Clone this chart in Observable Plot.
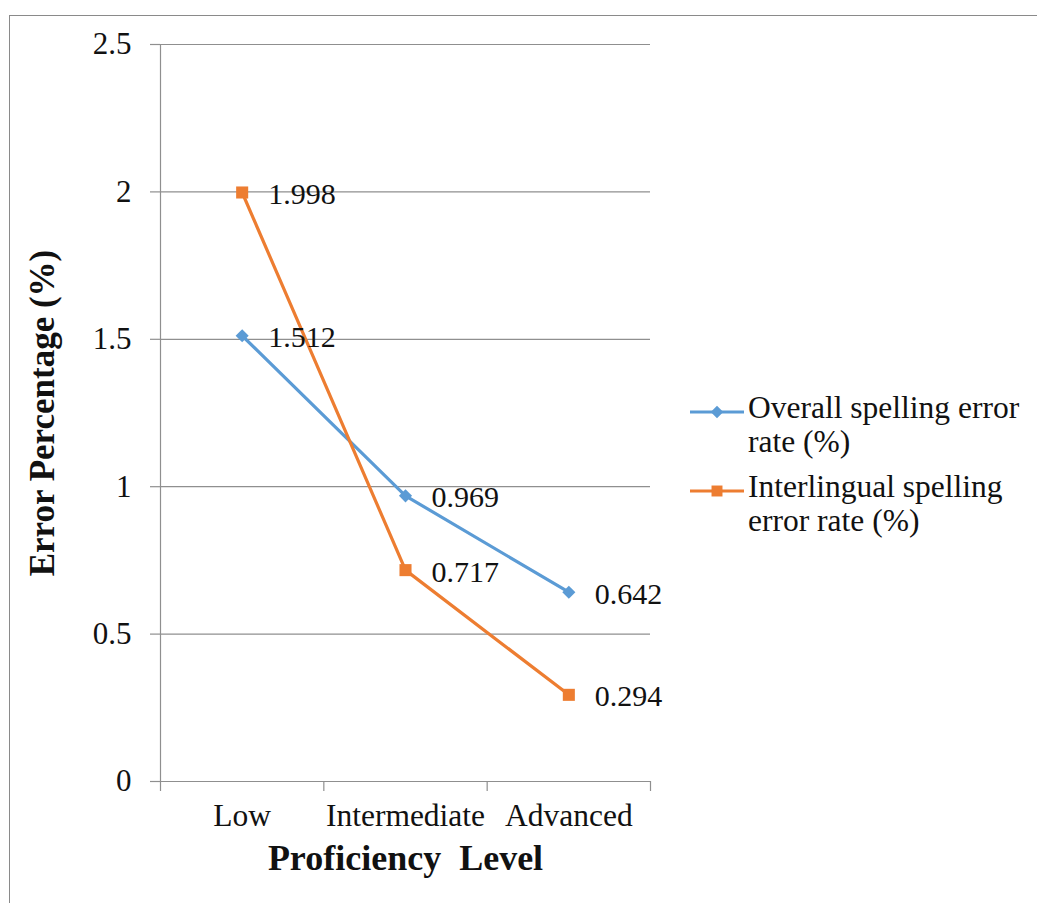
<!DOCTYPE html>
<html>
<head>
<meta charset="utf-8">
<script src="https://cdn.jsdelivr.net/npm/d3@7"></script>
<script src="https://cdn.jsdelivr.net/npm/@observablehq/plot@0.6"></script>
<style>
  html, body { margin: 0; padding: 0; background: #fff; }
  body { width: 1037px; height: 903px; position: relative; overflow: hidden; font-family: "Liberation Serif", "Times New Roman", serif; }
  #frame { position: absolute; left: 9px; top: 15px; width: 1100px; height: 1000px; border: 1.5px solid #8a8a8a; box-sizing: border-box; }
  #chart { position: absolute; left: 0; top: 0; }
  #legend { position: absolute; left: 688px; top: 391px; font-size: 31.5px; line-height: 34px; color: #111; }
  .item { display: flex; align-items: flex-start; margin-bottom: 11px; }
  .item svg { flex: none; margin-top: 2px; }
  .item span { display: block; }
</style>
</head>
<body>
<div id="frame"></div>
<div id="chart"></div>
<div id="legend"></div>
<script>
const categories = ["Low", "Intermediate", "Advanced"];
const overallRate = [1.512, 0.969, 0.642];
const interlingualRate = [1.998, 0.717, 0.294];
const seriesNames = ["Overall spelling error rate (%)", "Interlingual spelling error rate (%)"];
const seriesColors = ["#5B9BD5", "#ED7D31"];
const yTicks = [0, 0.5, 1, 1.5, 2, 2.5];

const rows = [];
categories.forEach((c, i) => {
  rows.push({series: seriesNames[0], cat: c, pos: i + 0.5, value: overallRate[i]});
  rows.push({series: seriesNames[1], cat: c, pos: i + 0.5, value: interlingualRate[i]});
});
const overallRows = rows.filter(d => d.series === seriesNames[0]);
const interRows = rows.filter(d => d.series === seriesNames[1]);

const font = "'Liberation Serif', 'Times New Roman', serif";
const chart = Plot.plot({
  width: 1037,
  height: 903,
  marginLeft: 160,
  marginRight: 387,
  marginTop: 44,
  marginBottom: 122,
  style: {fontFamily: font, background: "transparent", color: "#111"},
  x: {domain: [0, categories.length], range: [160, 650]},
  y: {domain: [0, 2.5]},
  marks: [
    Plot.ruleY(yTicks.slice(1), {stroke: "#8f8f8f", strokeWidth: 1.2}),
    Plot.axisY({ticks: yTicks, tickFormat: d => String(d), tickSize: 10, tickPadding: 19, fontSize: 31, stroke: "#8f8f8f", strokeOpacity: 1, strokeWidth: 1.2, label: null}),
    Plot.ruleX([0], {stroke: "#8f8f8f", strokeWidth: 1.2}),
    Plot.ruleY([0], {stroke: "#8f8f8f", strokeWidth: 1.2}),
    Plot.axisX({ticks: d3.range(categories.length + 1), tickFormat: () => "", tickSize: 10, stroke: "#8f8f8f", strokeOpacity: 1, strokeWidth: 1.2, label: null}),
    Plot.axisX({ticks: categories.map((c, i) => i + 0.5), tickFormat: (d) => categories[Math.floor(d)], tickSize: 0, tickPadding: 22, fontSize: 31.5, label: null}),
    Plot.text(["Proficiency\u2002Level"], {frameAnchor: "bottom", dy: 88, fontSize: 36, fontWeight: "bold", fill: "#111", textAnchor: "middle"}),
    Plot.text(["Error Percentage (%)"], {frameAnchor: "left", dx: -118, rotate: -90, textAnchor: "middle", fontSize: 35, fontWeight: "bold", fill: "#111"}),
    Plot.line(overallRows, {x: "pos", y: "value", stroke: seriesColors[0], strokeWidth: 3.2}),
    Plot.line(interRows, {x: "pos", y: "value", stroke: seriesColors[1], strokeWidth: 3.2}),
    Plot.dot(overallRows, {x: "pos", y: "value", symbol: "diamond2", r: 5.9, fill: seriesColors[0], stroke: "none"}),
    Plot.dot(interRows, {x: "pos", y: "value", symbol: "square", r: 6.8, fill: seriesColors[1], stroke: "none"}),
    Plot.text(rows, {x: "pos", y: "value", text: d => d.value.toFixed(3), dx: 26, dy: 2, textAnchor: "start", fontSize: 30, fill: "#111"})
  ]
});
document.getElementById("chart").appendChild(chart);

// Legend
const legend = document.getElementById("legend");
const legendLines = [["Overall spelling error", "rate (%)"], ["Interlingual spelling", "error rate (%)"]];
seriesNames.forEach((name, i) => {
  const item = document.createElement("div");
  item.className = "item";
  const sw = d3.create("svg").attr("width", 60).attr("height", 34);
  sw.append("line").attr("x1", 2).attr("x2", 56).attr("y1", 19).attr("y2", 19).attr("stroke", seriesColors[i]).attr("stroke-width", 3.2);
  const sym = i === 0 ? d3.symbolDiamond2 : d3.symbolSquare;
  sw.append("path").attr("d", d3.symbol(sym, i === 0 ? 100 : 120)()).attr("transform", "translate(29,19)").attr("fill", seriesColors[i]);
  item.appendChild(sw.node());
  const label = document.createElement("div");
  legendLines[i].forEach(t => { const s = document.createElement("span"); s.textContent = t; label.appendChild(s); });
  item.appendChild(label);
  legend.appendChild(item);
});
</script>
</body>
</html>
